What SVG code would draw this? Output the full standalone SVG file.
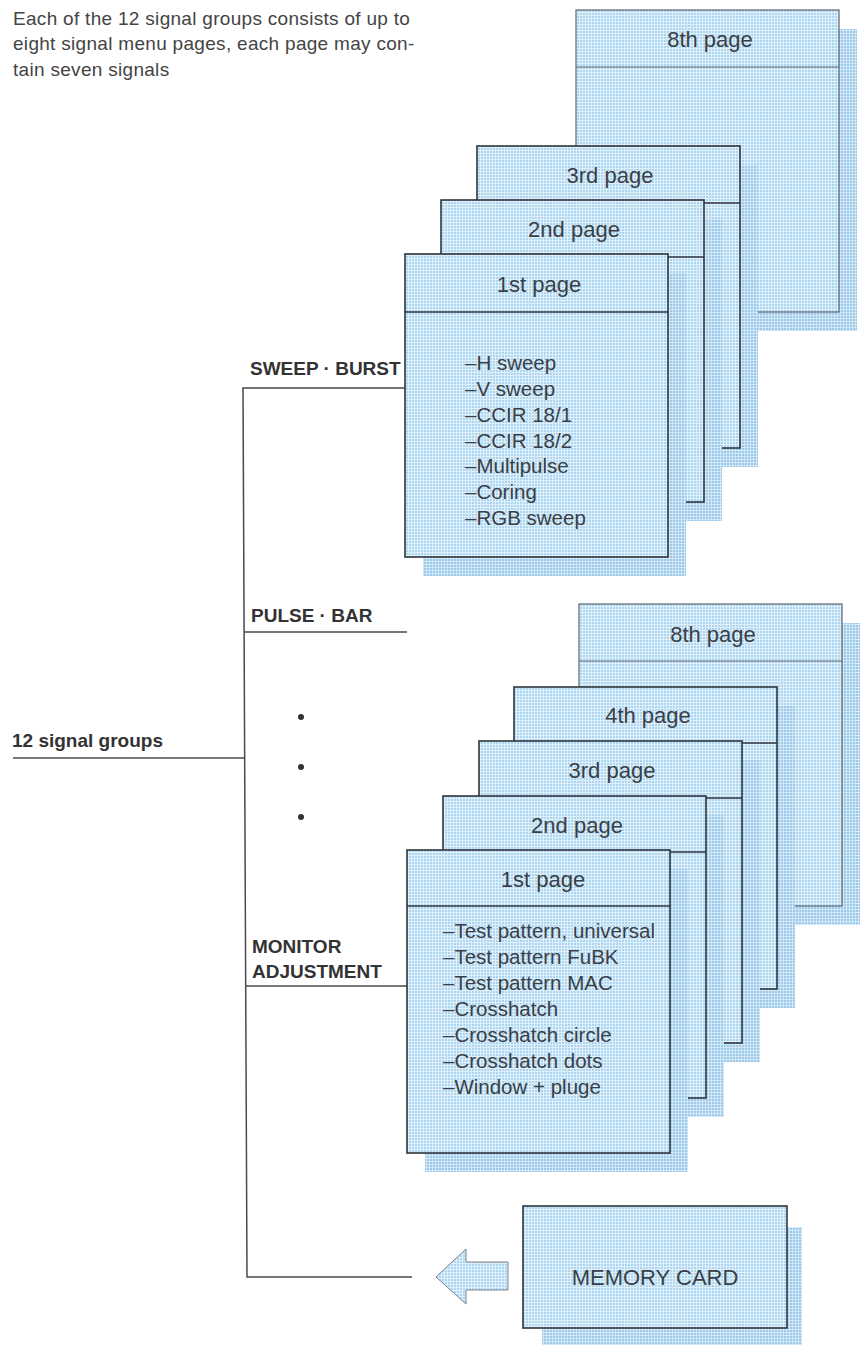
<svg xmlns="http://www.w3.org/2000/svg" width="862" height="1347" viewBox="0 0 862 1347">
<defs>
<pattern id="scr" patternUnits="userSpaceOnUse" width="3" height="3">
<rect width="3" height="3" fill="#acd5f0"/>
<rect width="3" height="1" fill="#dff0fa"/>
<rect width="1" height="3" fill="#dff0fa"/>
</pattern>
<pattern id="shd" patternUnits="userSpaceOnUse" width="3" height="3">
<rect width="3" height="3" fill="#9cc9ea"/>
<rect width="3" height="1" fill="#d3e8f7"/>
<rect width="1" height="3" fill="#d3e8f7"/>
</pattern>
</defs>
<style>
.pg{fill:url(#scr);stroke:#2f353d;stroke-width:1.6}
.pg8{fill:url(#scr);stroke:#5d6670;stroke-width:1.2}
.sh{fill:url(#shd)}
.hl{stroke:#2f353d;stroke-width:1.4}
.hl8{stroke:#5d6670;stroke-width:1.2}
.t{font-family:"Liberation Sans",Arial,sans-serif;fill:#3a3f47}
.title{font-size:22px;text-anchor:middle}
.item{font-size:20.5px}
.lbl{font-family:"Liberation Sans",Arial,sans-serif;font-weight:bold;font-size:19px;fill:#333}
.ln{stroke:#4a4a4a;stroke-width:1.5;fill:none}
.intro{font-family:"Liberation Sans",Arial,sans-serif;font-size:19px;letter-spacing:0.3px;fill:#444}
</style>
<rect width="862" height="1347" fill="#ffffff"/>

<g id="intro">
<text class="intro" x="13" y="25">Each of the 12 signal groups consists of up to</text>
<text class="intro" x="13" y="50">eight signal menu pages, each page may con-</text>
<text class="intro" x="13" y="76">tain seven signals</text>
</g>

<g id="connectors">
<polyline class="ln" points="405,388 243,388 247,1277 412,1277"/>
<line class="ln" x1="244" y1="632" x2="407" y2="632"/>
<line class="ln" x1="246" y1="986" x2="407" y2="986"/>
<line class="ln" x1="13" y1="758" x2="244" y2="758" stroke="#666" stroke-width="1.2"/>
</g>

<g id="labels">
<text class="lbl" x="250" y="375">SWEEP · BURST</text>
<text class="lbl" x="251" y="622">PULSE · BAR</text>
<text class="lbl" x="252" y="953">MONITOR</text>
<text class="lbl" x="252" y="978">ADJUSTMENT</text>
<text class="lbl" x="12" y="747" font-size="20">12 signal groups</text>
<circle cx="301" cy="717" r="3" fill="#333"/>
<circle cx="301" cy="767" r="3" fill="#333"/>
<circle cx="301" cy="817" r="3" fill="#333"/>
</g>

<!-- top stack -->
<g id="top-page8">
<rect class="sh" x="594" y="29" width="263" height="302"/>
<rect class="pg8" x="576" y="10" width="263" height="302"/>
<line class="hl8" x1="576" y1="67" x2="839" y2="67"/>
<text class="t title" x="710" y="47">8th page</text>
</g>
<g id="top-page3">
<rect class="sh" x="495" y="165" width="263" height="302"/>
<rect class="pg" x="477" y="146" width="263" height="302"/>
<line class="hl" x1="477" y1="203" x2="740" y2="203"/>
<text class="t title" x="610" y="183">3rd page</text>
</g>
<g id="top-page2">
<rect class="sh" x="459" y="219" width="263" height="302"/>
<rect class="pg" x="441" y="200" width="263" height="302"/>
<line class="hl" x1="441" y1="257" x2="704" y2="257"/>
<text class="t title" x="574" y="237">2nd page</text>
</g>
<g id="top-page1">
<rect class="sh" x="423" y="273" width="263" height="303"/>
<rect class="pg" x="405" y="254" width="263" height="303"/>
<line class="hl" x1="405" y1="312" x2="668" y2="312"/>
<text class="t title" x="539" y="292">1st page</text>
<text class="t item" x="465" y="370">–H sweep</text>
<text class="t item" x="465" y="396">–V sweep</text>
<text class="t item" x="465" y="422">–CCIR 18/1</text>
<text class="t item" x="465" y="448">–CCIR 18/2</text>
<text class="t item" x="465" y="473">–Multipulse</text>
<text class="t item" x="465" y="499">–Coring</text>
<text class="t item" x="465" y="525">–RGB sweep</text>
</g>

<!-- bottom stack -->
<g id="bottom-page8">
<rect class="sh" x="597" y="623" width="263" height="302"/>
<rect class="pg8" x="579" y="604" width="263" height="302"/>
<line class="hl8" x1="579" y1="661" x2="842" y2="661"/>
<text class="t title" x="713" y="642">8th page</text>
</g>
<g id="bottom-page4">
<rect class="sh" x="532" y="706" width="263" height="302"/>
<rect class="pg" x="514" y="687" width="263" height="302"/>
<line class="hl" x1="514" y1="743" x2="777" y2="743"/>
<text class="t title" x="648" y="723">4th page</text>
</g>
<g id="bottom-page3">
<rect class="sh" x="497" y="760" width="263" height="302"/>
<rect class="pg" x="479" y="741" width="263" height="302"/>
<line class="hl" x1="479" y1="798" x2="742" y2="798"/>
<text class="t title" x="612" y="778">3rd page</text>
</g>
<g id="bottom-page2">
<rect class="sh" x="461" y="815" width="263" height="302"/>
<rect class="pg" x="443" y="796" width="263" height="302"/>
<line class="hl" x1="443" y1="852" x2="706" y2="852"/>
<text class="t title" x="577" y="833">2nd page</text>
</g>
<g id="bottom-page1">
<rect class="sh" x="425" y="869" width="263" height="303"/>
<rect class="pg" x="407" y="850" width="263" height="303"/>
<line class="hl" x1="407" y1="906" x2="670" y2="906"/>
<text class="t title" x="543" y="887">1st page</text>
<text class="t item" x="443" y="938">–Test pattern, universal</text>
<text class="t item" x="443" y="964">–Test pattern FuBK</text>
<text class="t item" x="443" y="990">–Test pattern MAC</text>
<text class="t item" x="443" y="1016">–Crosshatch</text>
<text class="t item" x="443" y="1042">–Crosshatch circle</text>
<text class="t item" x="443" y="1068">–Crosshatch dots</text>
<text class="t item" x="443" y="1094">–Window + pluge</text>
</g>

<g id="memory-card">
<rect class="sh" x="542" y="1227" width="260" height="118"/>
<rect class="pg" x="523" y="1206" width="264" height="122"/>
<text class="t" x="655" y="1285" font-size="22" text-anchor="middle">MEMORY CARD</text>
</g>

<g id="arrow">
<polygon points="436,1277 466,1249 466,1262 508,1262 508,1290 466,1290 466,1304" fill="url(#scr)" stroke="#7a8088" stroke-width="1"/>
</g>
</svg>
